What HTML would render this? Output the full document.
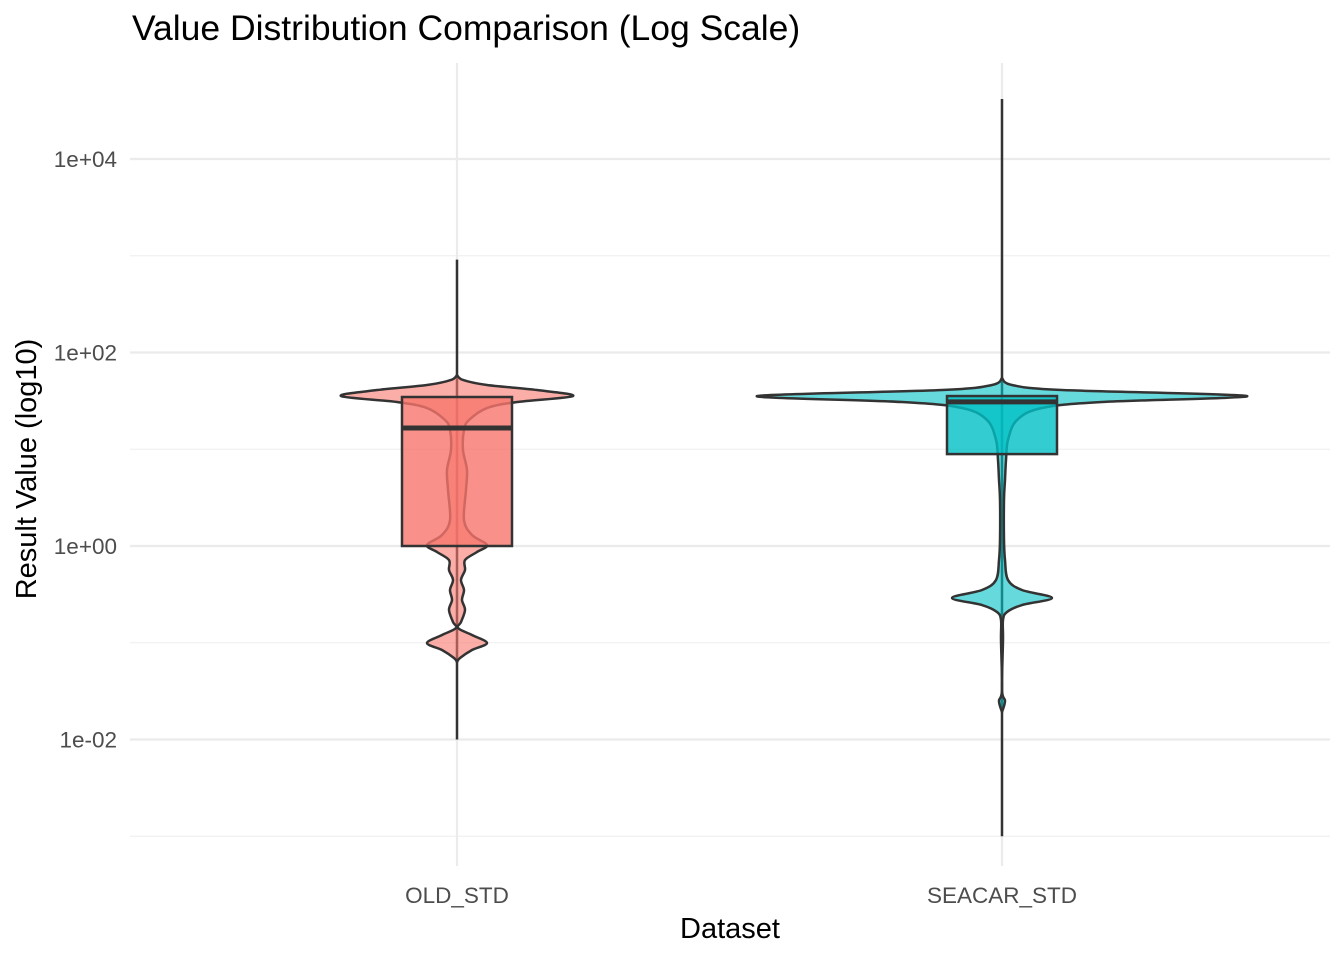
<!DOCTYPE html>
<html><head><meta charset="utf-8"><style>
body{margin:0;background:#fff;}
svg text{font-family:"Liberation Sans",sans-serif;}
</style></head><body>
<svg id="chart" width="1344" height="960" xmlns="http://www.w3.org/2000/svg">
<text x="132" y="40" font-size="35.5" fill="#000">Value Distribution Comparison (Log Scale)</text>
<g id="grid"></g><g id="marks"></g><g id="axes"></g>
<text x="730" y="938" font-size="29" text-anchor="middle" fill="#000">Dataset</text>
<text transform="translate(36,469) rotate(-90)" font-size="29" text-anchor="middle" fill="#000">Result Value (log10)</text>
</svg>
<script>
const categories = ["OLD_STD", "SEACAR_STD"];
const colors = ["#F8766D", "#00BFC4"];
const majorTicks = [-2, 0, 2, 4];
const tickLabels = ["1e-02", "1e+00", "1e+02", "1e+04"];
const minorTicks = [-3, -1, 1, 3];
// box stats in log10: [whiskerLow, q1, median, q3, whiskerHigh]
const boxOld = [-2, 0, 1.22, 1.54, 2.96];
const boxSeacar = [-3, 0.95, 1.49, 1.55, 4.62];
// violin profiles: log10 positions and relative density
const violinOldLog = [1.767,1.716,1.664,1.612,1.550,1.488,1.426,1.302,1.199,0.992,0.786,0.579,0.269,0.114,0.010,-0.062,-0.145,-0.248,-0.351,-0.455,-0.558,-0.661,-0.786,-0.848,-0.920,-1.003,-1.075,-1.158,-1.199];
const violinOldDens = [0,6,30,80,116,60,30,12,7,6,10,9,7,15,30,20,8,8,4,7,5,8,4,1,15,30,15,3,0];
const violinSeaLog = [1.736,1.664,1.612,1.550,1.488,1.426,1.302,1.096,0.889,0.682,0.475,0.062,-0.145,-0.351,-0.455,-0.537,-0.610,-0.682,-0.765,-0.971,-1.488,-1.602,-1.716];
const violinSeaDens = [0,10,60,245,100,40,15,6,4,3,2,2,3,6,20,50,20,5,1,1,0,3,0];

const NS = "http://www.w3.org/2000/svg";
const xPos = i => 457 + i * 545;
const yPos = l => 546 - 96.75 * l;
const wScale = d => d;
function mk(tag, attrs, parent) {
  const e = document.createElementNS(NS, tag);
  for (const k in attrs) e.setAttribute(k, attrs[k]);
  parent.appendChild(e); return e;
}
const grid = document.getElementById('grid'), marks = document.getElementById('marks'), axes = document.getElementById('axes');
minorTicks.forEach(t => {
  const l = mk('line', {x1:130, x2:1330, y1:yPos(t), y2:yPos(t), stroke:'#f0f0f0', 'stroke-width':1.2}, grid);
  
  
});
majorTicks.forEach((t, i) => {
  const l = mk('line', {x1:130, x2:1330, y1:yPos(t), y2:yPos(t), stroke:'#ebebeb', 'stroke-width':2.2}, grid);
  
  
  const tx = mk('text', {x:117, y:yPos(t)+8, 'font-size':22.5, 'text-anchor':'end', fill:'#4d4d4d'}, axes);
  tx.textContent = tickLabels[i];
  
  
});
categories.forEach((c, i) => {
  const l = mk('line', {x1:xPos(i), x2:xPos(i), y1:63, y2:866, stroke:'#ebebeb', 'stroke-width':2.2}, grid);
  
  
  const tx = mk('text', {x:xPos(i), y:903, 'font-size':22.5, 'text-anchor':'middle', fill:'#4d4d4d'}, axes);
  tx.textContent = c;
  
  
});
function smoothPath(pts) {
  let d = `M${pts[0][0]},${pts[0][1]}`;
  for (let i = 0; i < pts.length - 1; i++) {
    const p0 = pts[Math.max(0,i-1)], p1 = pts[i], p2 = pts[i+1], p3 = pts[Math.min(pts.length-1,i+2)];
    const c1 = [p1[0]+(p2[0]-p0[0])/6, p1[1]+(p2[1]-p0[1])/6];
    const c2 = [p2[0]-(p3[0]-p1[0])/6, p2[1]-(p3[1]-p1[1])/6];
    d += ` C${c1[0]},${c1[1]} ${c2[0]},${c2[1]} ${p2[0]},${p2[1]}`;
  }
  return d;
}
function drawGroup(i, logs, dens, box) {
  const cx = xPos(i);
  const w = mk('line', {x1:cx, x2:cx, y1:yPos(box[0]), y2:yPos(box[4]), stroke:'#333', 'stroke-width':2.5}, marks);
  
  
  const right = logs.map((l, k) => [cx + wScale(dens[k]), yPos(l)]);
  const left = logs.map((l, k) => [cx - wScale(dens[k]), yPos(l)]).reverse();
  const d = smoothPath(right) + ' L' + smoothPath(left).slice(1) + ' Z';
  const v = mk('path', {d:d, fill:colors[i], 'fill-opacity':0.6, stroke:'#333', 'stroke-width':2.5, 'stroke-linejoin':'round'}, marks);
  
  
  const r = mk('rect', {x:cx-55, y:yPos(box[3]), width:110, height:yPos(box[1])-yPos(box[3]), fill:colors[i], 'fill-opacity':0.8, stroke:'#333', 'stroke-width':2.5}, marks);
  
  
  const m = mk('line', {x1:cx-55, x2:cx+55, y1:yPos(box[2]), y2:yPos(box[2]), stroke:'#333', 'stroke-width':5}, marks);
  
  
}
drawGroup(0, violinOldLog, violinOldDens, boxOld);
drawGroup(1, violinSeaLog, violinSeaDens, boxSeacar);
</script>
</body></html>
